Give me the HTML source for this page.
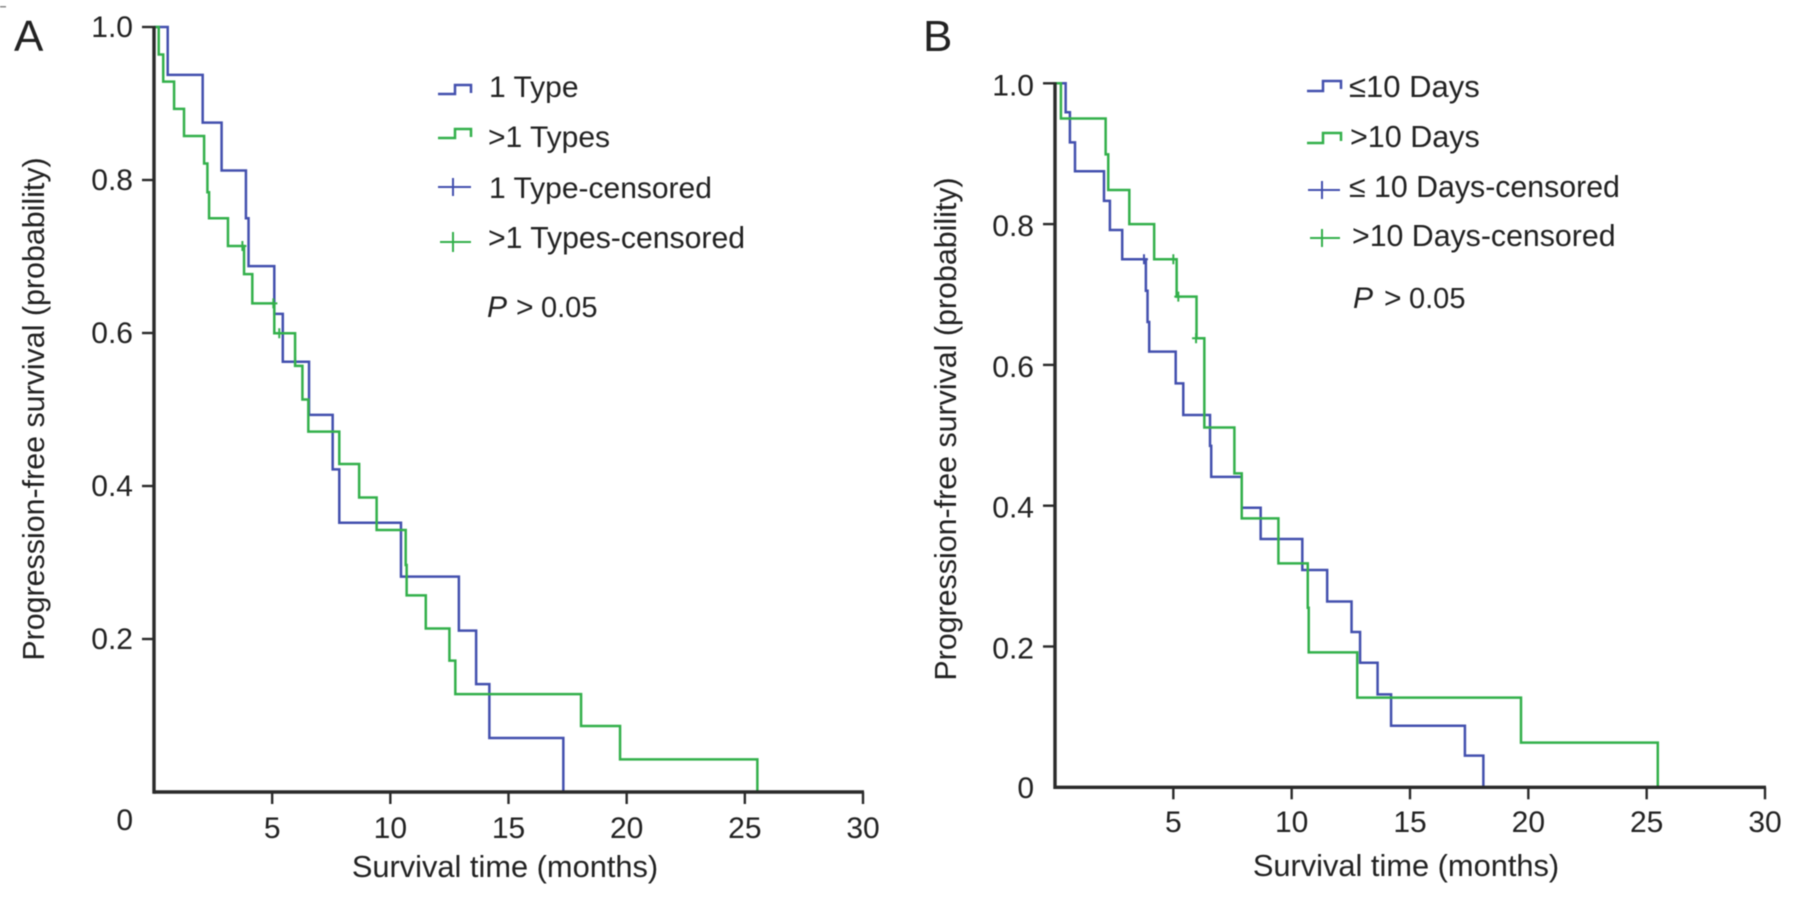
<!DOCTYPE html>
<html lang="en">
<head>
<meta charset="utf-8">
<title>Progression-free survival curves</title>
<style>
html,body{margin:0;padding:0;background:#fff;}
#figure{display:block;width:1795px;height:901px;filter:blur(0.6px);}
text{font-family:"Liberation Sans",Arial,sans-serif;fill:#222222;font-size:30px;}
.panel-letter{font-size:44px;}
.step{fill:none;stroke-width:2.5;shape-rendering:geometricPrecision;}
.blue{stroke:#4350ae;}
.green{stroke:#33b04b;}
.mark{stroke-width:2;}
</style>
</head>
<body>
<svg id="figure" xmlns="http://www.w3.org/2000/svg" width="1795" height="901" viewBox="0 0 1795 901">
  <rect x="0" y="0" width="1795" height="901" fill="#ffffff"/>
  <rect x="0" y="6" width="6" height="1.5" fill="#888888"/>

  <text class="panel-letter" x="14" y="51">A</text>
  <text class="panel-letter" x="923" y="51">B</text>

  <text style="font-size:30.4px" text-anchor="middle" transform="translate(44 409) rotate(-90)">Progression-free survival (probability)</text>
  <text style="font-size:30.8px" text-anchor="middle" x="505" y="877">Survival time (months)</text>
  <text style="font-size:30.4px" text-anchor="middle" transform="translate(956 429) rotate(-90)">Progression-free survival (probability)</text>
  <text style="font-size:30.8px" text-anchor="middle" x="1406" y="876">Survival time (months)</text>

  <g>
    <path class="step blue" d="M438 94H455V85H471V93"/>
    <text x="489" y="97">1 Type</text>
    <path class="step green" d="M438 138H455V129H471V137"/>
    <text x="488" y="147">&gt;1 Types</text>
    <path class="step blue mark" d="M438 187H471M453 178V196"/>
    <text x="489" y="198">1 Type-censored</text>
    <path class="step green mark" d="M440 242H471M453 232V252"/>
    <text style="font-size:30.2px" x="488" y="248">&gt;1 Types-censored</text>
    <g>
      <text font-style="italic" x="487" y="317">P</text>
      <text x="516" y="317">&gt;</text>
      <text style="font-size:29px" x="541" y="317">0.05</text>
    </g>
  </g>

  <g>
    <path class="step blue" d="M1307 91H1323V81H1341V89"/>
    <text style="font-size:31px" x="1349" y="97">≤10 Days</text>
    <path class="step green" d="M1307 143H1323V133H1341V141"/>
    <text style="font-size:30.5px" x="1350" y="147">&gt;10 Days</text>
    <path class="step blue mark" d="M1308 190H1340M1322 181V199"/>
    <text style="font-size:30.3px" x="1349" y="197">≤ 10 Days-censored</text>
    <path class="step green mark" d="M1310 238H1340M1322 229V247"/>
    <text style="font-size:30.3px" x="1352" y="246">&gt;10 Days-censored</text>
    <g>
      <text font-style="italic" x="1353" y="308">P</text>
      <text x="1384" y="308">&gt;</text>
      <text style="font-size:29px" x="1409" y="308">0.05</text>
    </g>
  </g>

  <g id="panel-a"></g>
  <g id="panel-b"></g>
</svg>

<script>
// Shared axis values
const xTicks = [5, 10, 15, 20, 25, 30];
const yTicks = [0.2, 0.4, 0.6, 0.8, 1.0];
const yTickLabels = ['0.2', '0.4', '0.6', '0.8', '1.0'];

// Panel A: 1 Type
const aBlueTimes = [0.58, 2.06, 2.86, 3.89, 4.0, 5.09, 5.45, 6.56, 7.56, 7.84, 10.45, 12.9, 13.63, 14.19, 17.32];
const aBlueSurvival = [0.9375, 0.875, 0.8125, 0.75, 0.6875, 0.625, 0.5625, 0.493, 0.4218, 0.352, 0.2815, 0.211, 0.141, 0.0706, 0];
const aBlueCensorTimes = [5.97];
const aBlueCensorSurvival = [0.5625];

// Panel A: >1 Types
const aGreenTimes = [0.2, 0.39, 0.85, 1.27, 2.12, 2.26, 2.33, 3.13, 3.81, 4.16, 5.09, 5.97, 6.28, 6.53, 7.84, 8.68, 9.42, 10.65, 10.69, 11.5, 12.5, 12.75, 18.07, 19.72, 25.53];
const aGreenSurvival = [0.964, 0.9286, 0.893, 0.8575, 0.8215, 0.784, 0.75, 0.7137, 0.677, 0.6388, 0.5996, 0.557, 0.513, 0.471, 0.4288, 0.385, 0.3425, 0.2967, 0.257, 0.2137, 0.1717, 0.128, 0.0863, 0.0427, 0];
const aGreenCensorTimes = [3.74, 5.05, 5.3];
const aGreenCensorSurvival = [0.7137, 0.6388, 0.5996];

// Panel B: <=10 Days
const bBlueTimes = [0.45, 0.63, 0.845, 2.07, 2.32, 2.84, 3.84, 3.91, 3.98, 5.1, 5.42, 6.55, 6.6, 7.89, 8.69, 10.45, 11.5, 12.53, 12.89, 13.63, 14.2, 17.32, 18.1];
const bBlueSurvival = [0.9588, 0.916, 0.875, 0.833, 0.7916, 0.75, 0.7054, 0.661, 0.6188, 0.5738, 0.5288, 0.485, 0.441, 0.397, 0.3527, 0.3087, 0.264, 0.2206, 0.177, 0.132, 0.0875, 0.045, 0];
const bBlueCensorTimes = [3.76];
const bBlueCensorSurvival = [0.75];

// Panel B: >10 Days
const bGreenTimes = [0.25, 2.14, 2.25, 3.14, 4.19, 5.14, 5.98, 6.31, 7.58, 7.89, 9.44, 10.68, 10.72, 12.77, 19.69, 25.47];
const bGreenSurvival = [0.95, 0.899, 0.8485, 0.8, 0.75, 0.697, 0.6378, 0.511, 0.446, 0.382, 0.318, 0.255, 0.1917, 0.1273, 0.0634, 0];
const bGreenCensorTimes = [5.0, 5.21, 5.96];
const bGreenCensorSurvival = [0.75, 0.697, 0.6378];

const SVG_NS = 'http://www.w3.org/2000/svg';
const AXIS_COLOR = '#2a2a2a';

function make(parent, tag, attrs) {
  const el = document.createElementNS(SVG_NS, tag);
  for (const key in attrs) el.setAttribute(key, attrs[key]);
  parent.appendChild(el);
  return el;
}

function drawAxes(parent, x, y, opts) {
  const yAxis = make(parent, 'line', { x1: x(0), x2: x(0), y1: y(1) - 1, y2: y(0) + 1.7, stroke: AXIS_COLOR, 'stroke-width': 3.4 });
  
  
  const xAxis = make(parent, 'line', { x1: x(0), x2: x(30) + 1, y1: y(0), y2: y(0), stroke: AXIS_COLOR, 'stroke-width': 3.4 });
  
  

  xTicks.forEach(function (t) {
    const tick = make(parent, 'line', { x1: x(t), x2: x(t), y1: y(0), y2: y(0) + 12, stroke: AXIS_COLOR, 'stroke-width': 2.4 });
    
    
    const label = make(parent, 'text', { x: x(t), y: opts.xLabelY, 'text-anchor': 'middle' });
    label.textContent = String(t);
    
    
  });

  yTicks.forEach(function (v, i) {
    const tick = make(parent, 'line', { x1: x(0) - 12, x2: x(0), y1: y(v), y2: y(v), stroke: AXIS_COLOR, 'stroke-width': 2.4 });
    
    
    const label = make(parent, 'text', { x: x(0) - 21, y: y(v) + opts.yLabelDy, 'text-anchor': 'end' });
    label.textContent = yTickLabels[i];
    
    
  });

  const zero = make(parent, 'text', { x: x(0) - 21, y: opts.zeroY, 'text-anchor': 'end' });
  zero.textContent = '0';
  
  
}

function drawSeries(parent, x, y, cls, times, survival, censorTimes, censorSurvival) {
  let d = 'M' + x(0) + ' ' + y(1);
  times.forEach(function (t, i) {
    d += 'H' + x(t) + 'V' + y(survival[i]);
  });
  const line = make(parent, 'path', { d: d, 'class': 'step ' + cls });
  
  

  censorTimes.forEach(function (t, i) {
    const cx = x(t);
    const cy = y(censorSurvival[i]);
    const mark = make(parent, 'path', { d: 'M' + (cx - 4) + ' ' + cy + 'H' + (cx + 4) + 'M' + cx + ' ' + (cy - 5) + 'V' + (cy + 5), 'class': 'step mark ' + cls });
    
    
  });
}

function scale(origin, pxPerUnit) {
  return function (value) { return origin + value * pxPerUnit; };
}

// Panel A
const panelA = document.getElementById('panel-a');
const xA = scale(154, 709 / 30);
const yA = scale(792, -765);
drawSeries(panelA, xA, yA, 'blue', aBlueTimes, aBlueSurvival, aBlueCensorTimes, aBlueCensorSurvival);
drawSeries(panelA, xA, yA, 'green', aGreenTimes, aGreenSurvival, aGreenCensorTimes, aGreenCensorSurvival);
drawAxes(panelA, xA, yA, { xLabelY: 838, yLabelDy: 10, zeroY: 830 });

// Panel B
const panelB = document.getElementById('panel-b');
const xB = scale(1055, 710 / 30);
const yB = scale(787.3, -704);
drawSeries(panelB, xB, yB, 'blue', bBlueTimes, bBlueSurvival, bBlueCensorTimes, bBlueCensorSurvival);
drawSeries(panelB, xB, yB, 'green', bGreenTimes, bGreenSurvival, bGreenCensorTimes, bGreenCensorSurvival);
drawAxes(panelB, xB, yB, { xLabelY: 832, yLabelDy: 12, zeroY: 798 });
</script>
</body>
</html>
